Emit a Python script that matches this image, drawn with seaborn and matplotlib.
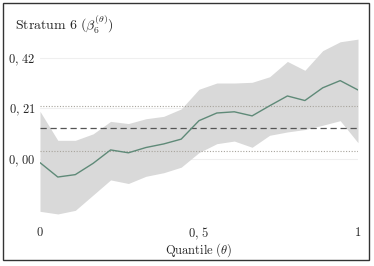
import numpy as np
import pandas as pd
import matplotlib
matplotlib.use("Agg")
import matplotlib.pyplot as plt
import seaborn as sns
from matplotlib.patches import Rectangle

theta = [0.000, 0.056, 0.111, 0.167, 0.222, 0.278, 0.333, 0.389, 0.444, 0.500,
         0.556, 0.611, 0.667, 0.722, 0.778, 0.833, 0.889, 0.944, 1.000]
beta = [-0.016, -0.076, -0.066, -0.019, 0.037, 0.025, 0.047, 0.062, 0.082, 0.159,
        0.191, 0.196, 0.179, 0.221, 0.262, 0.243, 0.296, 0.326, 0.287]
upper = [0.198, 0.077, 0.077, 0.104, 0.156, 0.147, 0.167, 0.177, 0.208, 0.290,
         0.316, 0.316, 0.319, 0.342, 0.406, 0.369, 0.451, 0.488, 0.499]
lower = [-0.219, -0.230, -0.215, -0.151, -0.088, -0.103, -0.073, -0.058, -0.035, 0.026,
         0.063, 0.074, 0.048, 0.098, 0.112, 0.122, 0.140, 0.159, 0.067]
ols_est = 0.128
ols_hi = 0.222
ols_lo = 0.031
yticks = [0.0, 0.21, 0.42]
ytick_labels = [r"$0,\,00$", r"$0,\,21$", r"$0,\,42$"]
xticks = [0, 0.5, 1]
xtick_labels = [r"$0$", r"$0,\,5$", r"$1$"]

df = pd.DataFrame({"theta": theta, "beta": beta, "upper": upper, "lower": lower})

sns.set_style("white")
plt.rcParams["mathtext.fontset"] = "cm"
plt.rcParams["font.family"] = ["DejaVu Serif"]

fig = plt.figure(figsize=(3.74, 2.66), dpi=100)
ax = fig.add_axes([40 / 374, 1 - 218.75 / 266, 318 / 374, 182.25 / 266])

ax.fill_between(df["theta"], df["lower"], df["upper"], color="#d9d9d9", lw=0, zorder=1)
for yv in yticks:
    ax.axhline(yv, color="#efefef", lw=0.8, zorder=0)
ax.axhline(ols_hi, color="#a8a49c", lw=0.8, ls=(0, (1, 1.5)), zorder=2)
ax.axhline(ols_lo, color="#a8a49c", lw=0.8, ls=(0, (1, 1.5)), zorder=2)
ax.axhline(ols_est, color="#555555", lw=0.9, ls=(0, (5, 3)), zorder=3)
sns.lineplot(data=df, x="theta", y="beta", color="#5f8a78", lw=1.0, ax=ax, zorder=4)

ax.set_xlim(0, 1)
ax.set_ylim(-0.25, 0.51)
ax.set_xticks(xticks)
ax.set_xticklabels(xtick_labels, fontsize=9)
ax.set_yticks(yticks)
ax.set_yticklabels(ytick_labels, fontsize=9)
ax.tick_params(length=0)
ax.tick_params(axis="x", pad=5)
ax.tick_params(axis="y", pad=3)
ax.set_ylabel("")
ax.set_xlabel(r"$\mathrm{Quantile}\ (\theta)$", fontsize=9, labelpad=-0.5)
for s in ax.spines.values():
    s.set_visible(False)
ax.set_facecolor("none")

fig.text(15 / 374, 1 - 25 / 266, r"$\mathrm{Stratum\ 6\ }(\beta_6^{(\theta)})$",
         fontsize=10, va="center", ha="left")

fig.patches.append(Rectangle((2.5 / 374, 1 - 260 / 266), 366 / 374, 257.5 / 266,
                             transform=fig.transFigure, fill=False,
                             edgecolor="#333333", lw=1.0))

fig.savefig("out.png", dpi=100)
